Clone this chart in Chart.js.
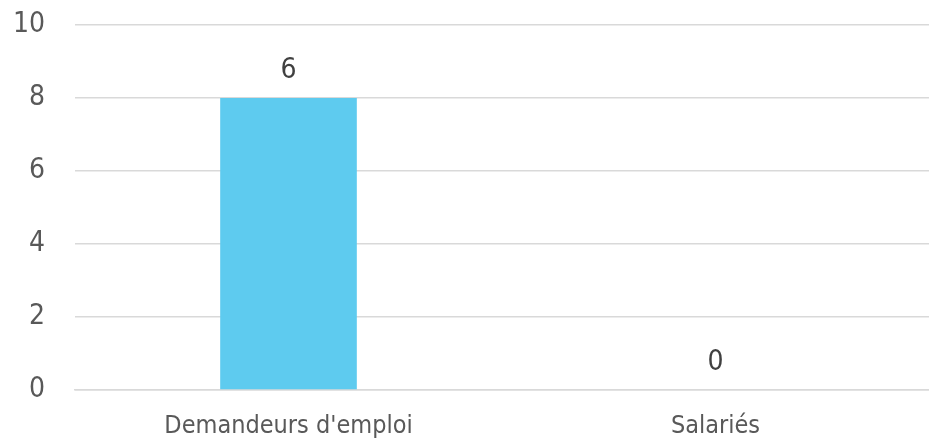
<!DOCTYPE html>
<html>
<head>
<meta charset="utf-8">
<script src="https://cdn.jsdelivr.net/npm/chart.js@4/dist/chart.umd.min.js"></script>
<style>
  html, body { margin: 0; padding: 0; background: #fff; }
  #wrap { width: 929px; height: 443px; }
</style>
</head>
<body>
<div id="wrap"><canvas id="mycanvas"></canvas></div>
<script>
var categories = ["Demandeurs d'emploi", "Salariés"];
var values = [8, 0];
var valueLabels = ["6", "0"];
var yTicks = [0, 2, 4, 6, 8, 10];

var FONT = "'Liberation Sans Narrow', 'DejaVu Sans Condensed', sans-serif";

// draws the value text above each bar
var barLabels = {
	id: 'barLabels',
	afterDatasetsDraw: function(chart) {
		var ctx = chart.ctx;
		var meta = chart.getDatasetMeta(0);
		ctx.save();
		ctx.font = "28px " + FONT;
		ctx.fillStyle = "#404040";
		ctx.textAlign = "center";
		ctx.textBaseline = "middle";
		meta.data.forEach(function(bar, i) {
			ctx.fillText(valueLabels[i], bar.x, bar.y - 27);
		});
		ctx.restore();
	}
};

var ctx = document.getElementById("mycanvas");

var chart = new Chart(ctx, {
	type: 'bar',
	data: {
		labels: categories,
		datasets: [
			{
				data: values,
				backgroundColor: "#5ecbef",
				categoryPercentage: 1,
				barPercentage: 0.32
			}
		]
	},
	options: {
		responsive: true,
		maintainAspectRatio: false,
		animation: false,
		layout: { padding: { top: 25, left: 0, right: 0, bottom: 0 } },
		plugins: {
			legend: { display: false },
			tooltip: { enabled: false }
		},
		scales: {
			x: {
				grid: { display: false, drawTicks: false },
				border: { color: "#d9d9d9", width: 1.5 },
				ticks: {
					color: "#595959",
					font: { family: FONT, size: 25 },
					padding: 21,
					maxRotation: 0
				},
				afterFit: function(axis) { axis.height = 53; }
			},
			y: {
				min: 0,
				max: 10,
				afterBuildTicks: function(axis) {
					axis.ticks = yTicks.map(function(v) { return { value: v }; });
				},
				grid: { color: "#d9d9d9", lineWidth: 1.5, drawTicks: false },
				border: { display: false },
				ticks: {
					color: "#595959",
					font: { family: FONT, size: 28 },
					padding: 30
				},
				afterFit: function(axis) {
					axis.width = 75;
					axis.paddingTop = 0;
					axis.paddingBottom = 0;
				}
			}
		}
	},
	plugins: [barLabels]
});
</script>
</body>
</html>
